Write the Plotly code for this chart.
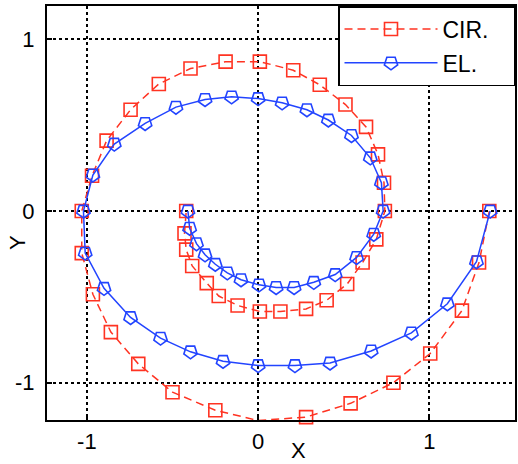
import plotly.graph_objects as go

# CIR. series (red, dashed, squares)
cir_x = [1.35, 1.29, 1.19, 1.005, 0.79, 0.54, 0.28, 0.0, -0.25, -0.50, -0.70, -0.86, -0.965, -1.03,
         -1.03, -0.97, -0.885, -0.745, -0.58, -0.395, -0.19, 0.01, 0.205, 0.36, 0.51, 0.63, 0.70, 0.735,
         0.74, 0.69, 0.61, 0.52, 0.40, 0.28, 0.13, 0.01, -0.12, -0.23, -0.30, -0.385, -0.42, -0.43, -0.42]
cir_y = [0.0, -0.30, -0.58, -0.83, -1.0, -1.12, -1.20, -1.22, -1.16, -1.055, -0.89, -0.705, -0.485, -0.245,
         0.0, 0.205, 0.41, 0.59, 0.74, 0.83, 0.87, 0.87, 0.82, 0.735, 0.62, 0.49, 0.33, 0.165,
         0.0, -0.165, -0.30, -0.425, -0.52, -0.57, -0.585, -0.585, -0.55, -0.495, -0.42, -0.32, -0.225, -0.13, 0.0]

# EL. series (blue, solid, pentagons)
el_x = [1.355, 1.275, 1.105, 0.895, 0.66, 0.42, 0.215, 0.0, -0.205, -0.395, -0.57, -0.745, -0.90, -1.01,
        -1.02, -0.965, -0.84, -0.66, -0.48, -0.31, -0.155, 0.0, 0.14, 0.285, 0.41, 0.545, 0.655, 0.72,
        0.73, 0.675, 0.575, 0.45, 0.325, 0.21, 0.105, 0.005, -0.10, -0.18, -0.25, -0.31, -0.36, -0.40, -0.41]
el_y = [0.0, -0.295, -0.54, -0.71, -0.815, -0.885, -0.90, -0.90, -0.875, -0.82, -0.74, -0.62, -0.45, -0.245,
        0.0, 0.21, 0.39, 0.51, 0.605, 0.65, 0.665, 0.655, 0.63, 0.59, 0.53, 0.44, 0.31, 0.165,
        0.0, -0.135, -0.27, -0.37, -0.415, -0.445, -0.445, -0.43, -0.40, -0.36, -0.31, -0.255, -0.19, -0.10, 0.0]

tick_vals = [-1, 0, 1]
tick_text = ["-1", "0", "1"]

RED = "#ff3322"
BLUE = "#2244ff"
FONT = "Liberation Sans, Arial, sans-serif"
PAD = "\u00a0\u00a0\u00a0"

fig = go.Figure()
fig.add_trace(go.Scatter(
    x=cir_x, y=cir_y, mode="lines+markers", name="CIR." + PAD, legendgroup="a",
    line=dict(color=RED, width=1.5, dash="8px,5px"),
    marker=dict(symbol="square-open", size=13, color=RED, line=dict(width=1.6, color=RED)),
    cliponaxis=False,
))
fig.add_trace(go.Scatter(
    x=el_x, y=el_y, mode="lines+markers", name="EL." + PAD, legendgroup="b",
    line=dict(color=BLUE, width=1.5),
    marker=dict(symbol="pentagon-open", size=14, angle=180, color=BLUE, line=dict(width=1.6, color=BLUE)),
    cliponaxis=False,
))

axis_common = dict(
    showline=True, linecolor="black", linewidth=2, mirror=True,
    ticks="inside", ticklen=5, tickwidth=1.5, tickcolor="black",
    showgrid=True, gridcolor="black", gridwidth=1.5, griddash="3px,3px",
    zeroline=False, tickvals=tick_vals, ticktext=tick_text,
    tickfont=dict(family=FONT, size=22, color="black"),
)

fig.update_layout(
    width=518, height=464,
    margin=dict(l=47, r=1, t=6, b=44),
    paper_bgcolor="white", plot_bgcolor="white",
    xaxis=dict(range=[-1.233, 1.5], ticklabelstandoff=1, **axis_common),
    yaxis=dict(range=[-1.217, 1.194], ticklabelstandoff=6, **axis_common),
    showlegend=True,
    legend=dict(
        x=1, y=1, xanchor="right", yanchor="top",
        bgcolor="white", bordercolor="black", borderwidth=1.5,
        font=dict(family=FONT, size=23, color="black"),
        itemwidth=93, tracegroupgap=1, traceorder="grouped",
    ),
    annotations=[
        dict(text="X", xref="paper", yref="paper", x=0.538, y=-0.0725,
             xanchor="center", yanchor="middle", showarrow=False,
             font=dict(family=FONT, size=22, color="black")),
        dict(text="Y", xref="paper", yref="paper", x=-0.064, y=0.4275, textangle=-90,
             xanchor="center", yanchor="middle", showarrow=False,
             font=dict(family=FONT, size=22, color="black")),
    ],
)

fig.write_html("out.html")
